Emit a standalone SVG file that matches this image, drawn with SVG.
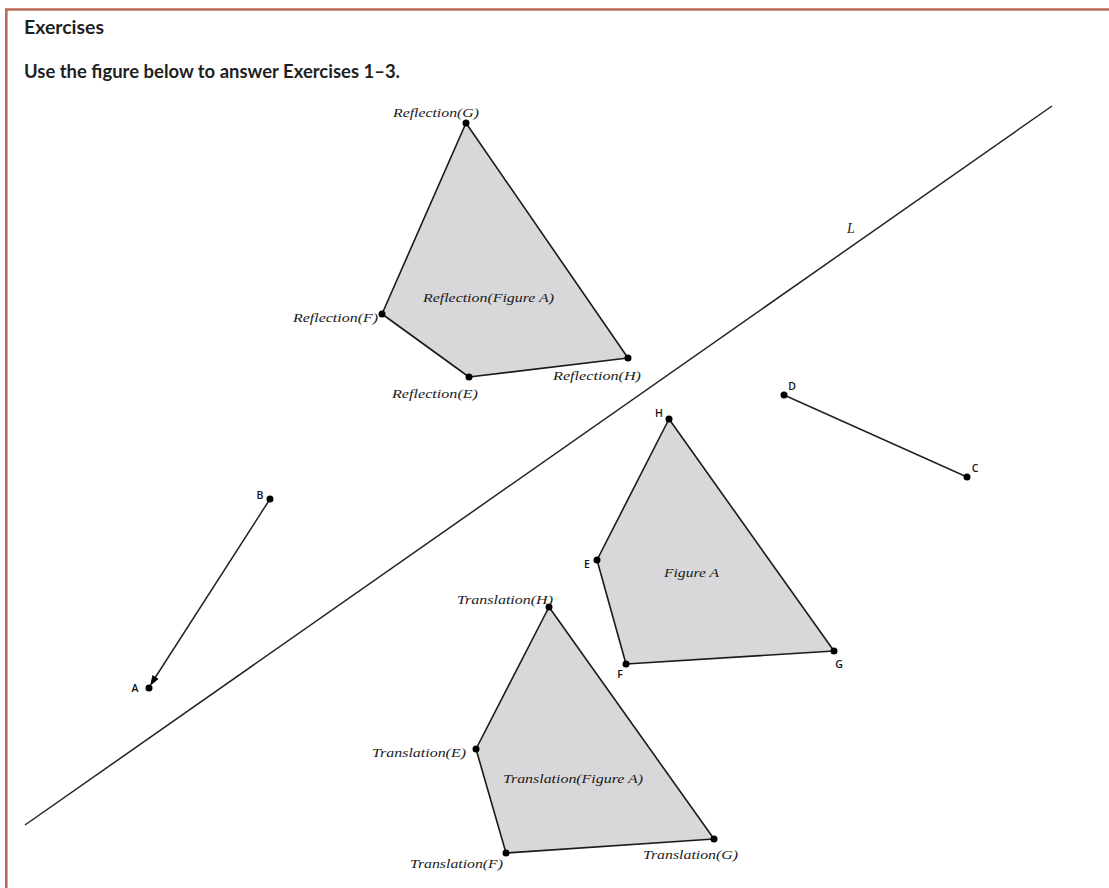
<svg xmlns="http://www.w3.org/2000/svg" width="1109" height="888" viewBox="0 0 1109 888">
<style>
.bd{stroke:#b86b55;stroke-width:2.6;fill:none}
.hd{font-family:Lato,"Open Sans","Liberation Sans",sans-serif;font-weight:bold;font-size:18.5px;fill:#1f1f1f}
.poly{fill:#d8d7d9;stroke:#1a1a1a;stroke-width:1.6;stroke-linejoin:round}
.ln{stroke:#222;stroke-width:1.5;fill:none}
.pt{fill:#000}
.m{font-family:"Liberation Serif","DejaVu Serif",serif;font-style:italic;font-size:13.5px;fill:#1a1a1a}
.s{font-family:"Open Sans","Liberation Sans",sans-serif;font-weight:600;font-size:10.5px;fill:#111;text-anchor:middle}
</style>
<rect width="1109" height="888" fill="#fff"/>
<path class="bd" d="M6.3 888 V9.5 H1109"/>
<text class="hd" x="24" y="34" textLength="80" lengthAdjust="spacingAndGlyphs">Exercises</text>
<text class="hd" x="24" y="78" textLength="376" lengthAdjust="spacingAndGlyphs">Use the figure below to answer Exercises 1–3.</text>
<g id="lineL">
<line class="ln" x1="25" y1="825" x2="1052" y2="106"/>
<text class="m" x="847" y="233" style="font-size:14px">L</text>
</g>
<g id="reflection">
<polygon class="poly" points="466,123 628,358 469,377 382,314"/>
<text class="m" x="423" y="302" textLength="131" lengthAdjust="spacingAndGlyphs">Reflection(Figure A)</text>
<circle class="pt" cx="466" cy="123" r="3.5"/>
<circle class="pt" cx="628" cy="358" r="3.5"/>
<circle class="pt" cx="469" cy="377" r="3.5"/>
<circle class="pt" cx="382" cy="314" r="3.5"/>
<text class="m" x="393" y="117" textLength="86" lengthAdjust="spacingAndGlyphs">Reflection(G)</text>
<text class="m" x="293" y="322" textLength="85" lengthAdjust="spacingAndGlyphs">Reflection(F)</text>
<text class="m" x="553" y="380" textLength="88" lengthAdjust="spacingAndGlyphs">Reflection(H)</text>
<text class="m" x="392" y="398" textLength="86" lengthAdjust="spacingAndGlyphs">Reflection(E)</text>
</g>
<g id="figureA">
<polygon class="poly" points="669,419 834,651 626,664 597,560"/>
<text class="m" x="664" y="577" textLength="55" lengthAdjust="spacingAndGlyphs">Figure A</text>
<circle class="pt" cx="669" cy="419" r="3.5"/>
<circle class="pt" cx="834" cy="651" r="3.5"/>
<circle class="pt" cx="626" cy="664" r="3.5"/>
<circle class="pt" cx="597" cy="560" r="3.5"/>
<text class="s" x="659" y="417">H</text>
<text class="s" x="839" y="668">G</text>
<text class="s" x="620" y="678">F</text>
<text class="s" x="587" y="568">E</text>
</g>
<g id="translation">
<polygon class="poly" points="549,607 714,839 506,853 476,749"/>
<text class="m" x="503" y="783" textLength="140" lengthAdjust="spacingAndGlyphs">Translation(Figure A)</text>
<circle class="pt" cx="549" cy="607" r="3.5"/>
<circle class="pt" cx="714" cy="839" r="3.5"/>
<circle class="pt" cx="506" cy="853" r="3.5"/>
<circle class="pt" cx="476" cy="749" r="3.5"/>
<text class="m" x="457" y="604" textLength="96" lengthAdjust="spacingAndGlyphs">Translation(H)</text>
<text class="m" x="372" y="757" textLength="94" lengthAdjust="spacingAndGlyphs">Translation(E)</text>
<text class="m" x="410" y="868" textLength="93" lengthAdjust="spacingAndGlyphs">Translation(F)</text>
<text class="m" x="643" y="859" textLength="95" lengthAdjust="spacingAndGlyphs">Translation(G)</text>
</g>
<g id="segmentDC">
<line class="ln" x1="784" y1="395" x2="967" y2="477"/>
<circle class="pt" cx="784" cy="395" r="3.5"/>
<circle class="pt" cx="967" cy="477" r="3.5"/>
<text class="s" x="792" y="390">D</text>
<text class="s" x="975" y="472">C</text>
</g>
<g id="vectorBA">
<line class="ln" x1="270" y1="499" x2="153" y2="681"/>
<polygon class="pt" points="150,686 152.5,675 158.5,679"/>
<circle class="pt" cx="270" cy="499" r="3.5"/>
<circle class="pt" cx="149" cy="688" r="3.5"/>
<text class="s" x="260" y="499">B</text>
<text class="s" x="135" y="692">A</text>
</g>
</svg>
